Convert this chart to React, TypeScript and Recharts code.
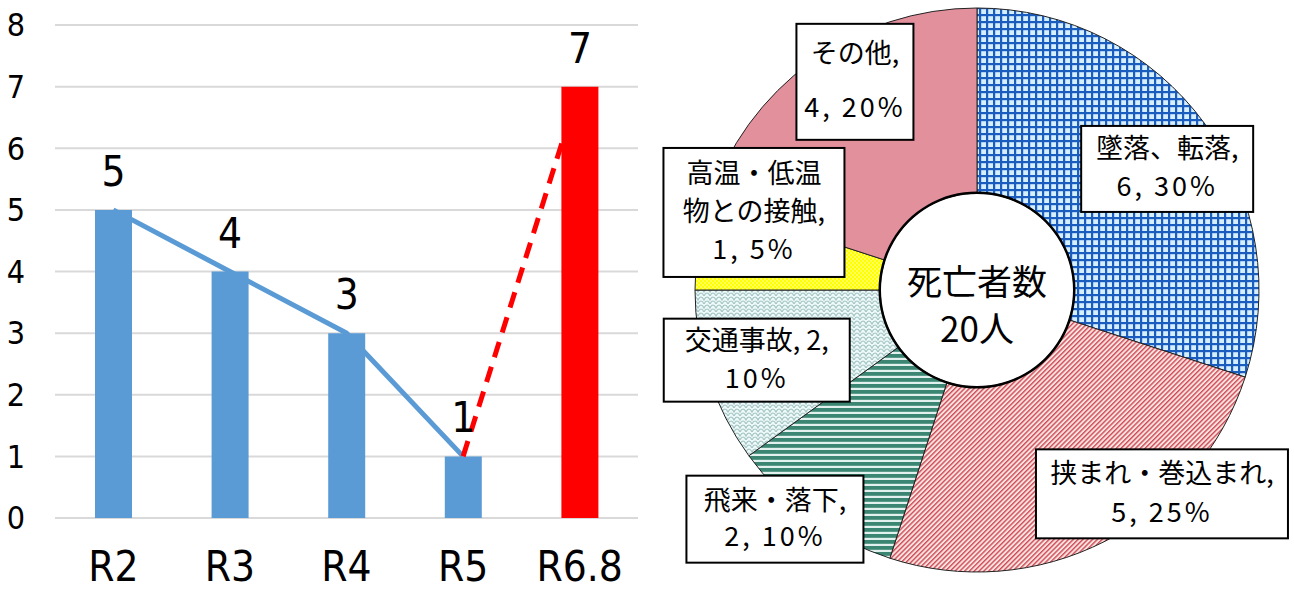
import React from 'react';
import {
  ComposedChart, Bar, Line, XAxis, YAxis, CartesianGrid, Cell, LabelList,
  PieChart, Pie,
} from 'recharts';

// ---------- data: left chart ----------
const categories = ['R2', 'R3', 'R4', 'R5', 'R6.8'];
const deaths = [5, 4, 3, 1, 7];
const trendValues: (number | null)[] = [5, 4, 3, 1, null];
const forecastValues: (number | null)[] = [null, null, null, 1, 7];
const yTicks = [0, 1, 2, 3, 4, 5, 6, 7, 8];

// ---------- data: right chart ----------
const causeNames = ['墜落、転落', '挟まれ・巻込まれ', '飛来・落下', '交通事故', '高温・低温物との接触', 'その他'];
const causeCounts = [6, 5, 2, 2, 1, 4];
const causeNameLines = [['墜落、転落'], ['挟まれ・巻込まれ'], ['飛来・落下'], ['交通事故'], ['高温・低温', '物との接触'], ['その他']];
const causeValueOnNameLine = [false, false, false, true, false, false];
const centerLines = ['死亡者数', '20人'];

// ---------- styles ----------
const barColors = ['#5B9BD5', '#5B9BD5', '#5B9BD5', '#5B9BD5', '#FF0000'];
const sliceFills = ['url(#pGrid)', 'url(#pDiag)', 'url(#pHoriz)', 'url(#pScallop)', 'url(#pDots)', '#E3909D'];
const labelLayout = [
  { dx: -4, dy: 20, w: 172, h: 86, pitch: 38 },
  { dx: 76, dy: -10, w: 252, h: 89, pitch: 39 },
  { dx: -61, dy: 35, w: 177, h: 87, pitch: 36 },
  { dx: 8, dy: -4, w: 186, h: 83, pitch: 38 },
  { dx: 14, dy: -40, w: 181, h: 129, pitch: 38 },
  { dx: 19, dy: -14, w: 117, h: 116, pitch: 54 },
];
const narrowFont = '"Liberation Sans Narrow", "DejaVu Sans Condensed", "Liberation Sans", sans-serif';
const cjkFont = '"Noto Sans CJK JP", "Noto Sans", sans-serif';

const barData = categories.map((c, i) => ({
  name: c, deaths: deaths[i], trend: trendValues[i], forecast: forecastValues[i],
}));
const pieData = causeNames.map((n, i) => ({ name: n, value: causeCounts[i] }));
const ringData = [{ name: 'total', value: 1 }];

const RAD = Math.PI / 180;

const renderCauseLabel = (props: any) => {
  const { cx, cy, midAngle, index, value, percent } = props;
  const L = labelLayout[index];
  const r = 240;
  const x = cx + r * Math.cos(-midAngle * RAD) + L.dx;
  const y = cy + r * Math.sin(-midAngle * RAD) + L.dy;
  const pct = `${Math.round(percent * 100)}%`;
  const names = causeNameLines[index].slice();
  const lines: { t: string; num: boolean }[] = [];
  names.forEach((n, i) => {
    const last = i === names.length - 1;
    if (!last) lines.push({ t: n, num: false });
    else if (causeValueOnNameLine[index]) lines.push({ t: `${n}, ${value},`, num: false });
    else lines.push({ t: `${n},`, num: false });
  });
  if (causeValueOnNameLine[index]) lines.push({ t: pct, num: true });
  else lines.push({ t: `${value}, ${pct}`, num: true });
  const n = lines.length;
  return (
    <g>
      <rect x={x - L.w / 2} y={y - L.h / 2} width={L.w} height={L.h} fill="#fff" stroke="#000" strokeWidth={2} />
      {lines.map((ln, i) => (
        <text
          key={i}
          x={x}
          y={y + (i - (n - 1) / 2) * L.pitch - 3}
          textAnchor="middle"
          dominantBaseline="central"
          fontFamily={cjkFont}
          fontSize={27}
          letterSpacing={ln.num ? 3 : 0}
          fill="#000"
        >
          {ln.t}
        </text>
      ))}
    </g>
  );
};

const renderCenter = (props: any) => {
  const { cx, cy } = props;
  return (
    <g>
      <text x={cx} y={cy - 11} textAnchor="middle" dominantBaseline="central" fontFamily={cjkFont} fontSize={35} fill="#000">
        {centerLines[0]}
      </text>
      <text x={cx} y={cy + 36} textAnchor="middle" dominantBaseline="central" fontFamily={cjkFont} fontSize={35} fill="#000">
        {centerLines[1]}
      </text>
    </g>
  );
};

const Patterns = () => (
  <svg width={0} height={0} style={{ position: 'absolute' }}>
    <defs>
      <pattern id="pGrid" patternUnits="userSpaceOnUse" width={7} height={7}>
        <rect x={0} y={0} width={7} height={7} fill="#D6EFFF" />
        <rect x={0} y={0} width={7} height={2.2} fill="#1A5DBE" />
        <rect x={0} y={0} width={2.2} height={7} fill="#1A5DBE" />
      </pattern>
      <pattern id="pDiag" patternUnits="userSpaceOnUse" width={3.4} height={3.4} patternTransform="rotate(45)">
        <rect x={0} y={0} width={3.4} height={3.4} fill="#FBE4E0" />
        <rect x={0} y={0} width={1.4} height={3.4} fill="#CF4A58" />
      </pattern>
      <pattern id="pHoriz" patternUnits="userSpaceOnUse" width={6} height={6}>
        <rect x={0} y={0} width={6} height={6} fill="#E2F1EE" />
        <rect x={0} y={0} width={6} height={3.8} fill="#3A8672" />
      </pattern>
      <pattern id="pDots" patternUnits="userSpaceOnUse" width={4} height={4}>
        <rect x={0} y={0} width={4} height={4} fill="#FFFF00" />
        <circle cx={1} cy={1} r={0.8} fill="#FFFFC8" />
        <circle cx={3} cy={3} r={0.8} fill="#FFFFC8" />
      </pattern>
      <pattern id="pScallop" patternUnits="userSpaceOnUse" width={12} height={8}>
        <rect x={0} y={0} width={12} height={8} fill="#EEF9F9" />
        <path d="M0 8 Q3 2 6 8 Q9 2 12 8 M-6 4 Q-3 -2 0 4 Q3 -2 6 4 Q9 -2 12 4 Q15 -2 18 4" fill="none" stroke="#A3C4C4" strokeWidth={1.2} />
      </pattern>
    </defs>
  </svg>
);

export default function App() {
  return (
    <div style={{ position: 'absolute', left: 0, top: 0, width: 1294, height: 590, background: '#fff' }}>
      <Patterns />
      <div style={{ position: 'absolute', left: 0, top: 0 }}>
        <ComposedChart width={650} height={590} data={barData} margin={{ top: 25, right: 12, left: 0, bottom: 0 }}>
          <CartesianGrid vertical={false} stroke="#D9D9D9" strokeWidth={2} />
          <XAxis
            dataKey="name"
            axisLine={false}
            tickLine={false}
            tickSize={0}
            tickMargin={33}
            height={72}
            interval={0}
            tick={{ fontFamily: narrowFont, fontSize: 42, fill: '#000' }}
          />
          <YAxis
            domain={[0, 8]}
            ticks={yTicks}
            axisLine={false}
            tickLine={false}
            tickSize={0}
            tickMargin={30}
            width={55}
            tick={{ fontFamily: narrowFont, fontSize: 32, fill: '#000' }}
          />
          <Bar dataKey="deaths" barSize={37} isAnimationActive={false}>
            {barData.map((d, i) => (
              <Cell key={d.name} fill={barColors[i]} />
            ))}
            <LabelList dataKey="deaths" position="top" offset={24} style={{ fontFamily: narrowFont, fontSize: 42, fill: '#000' }} />
          </Bar>
          <Line dataKey="trend" stroke="#5B9BD5" strokeWidth={5} dot={false} connectNulls={false} isAnimationActive={false} />
          <Line dataKey="forecast" stroke="#FF0000" strokeWidth={5} strokeDasharray="16 10" dot={false} connectNulls={false} isAnimationActive={false} />
        </ComposedChart>
      </div>
      <div style={{ position: 'absolute', left: 650, top: 0 }}>
        <PieChart width={644} height={590} margin={{ top: 0, right: 0, bottom: 0, left: 0 }}>
          <Pie
            data={pieData}
            dataKey="value"
            nameKey="name"
            cx={327}
            cy={290}
            innerRadius={97}
            outerRadius={282}
            startAngle={90}
            endAngle={-270}
            stroke="#222"
            strokeWidth={1}
            label={renderCauseLabel}
            labelLine={false}
            isAnimationActive={false}
          >
            {pieData.map((d, i) => (
              <Cell key={d.name} fill={sliceFills[i]} />
            ))}
          </Pie>
          <Pie
            data={ringData}
            dataKey="value"
            cx={327}
            cy={290}
            innerRadius={96}
            outerRadius={98.5}
            startAngle={90}
            endAngle={-270}
            fill="#000"
            stroke="none"
            label={renderCenter}
            labelLine={false}
            isAnimationActive={false}
          />
        </PieChart>
      </div>
    </div>
  );
}
